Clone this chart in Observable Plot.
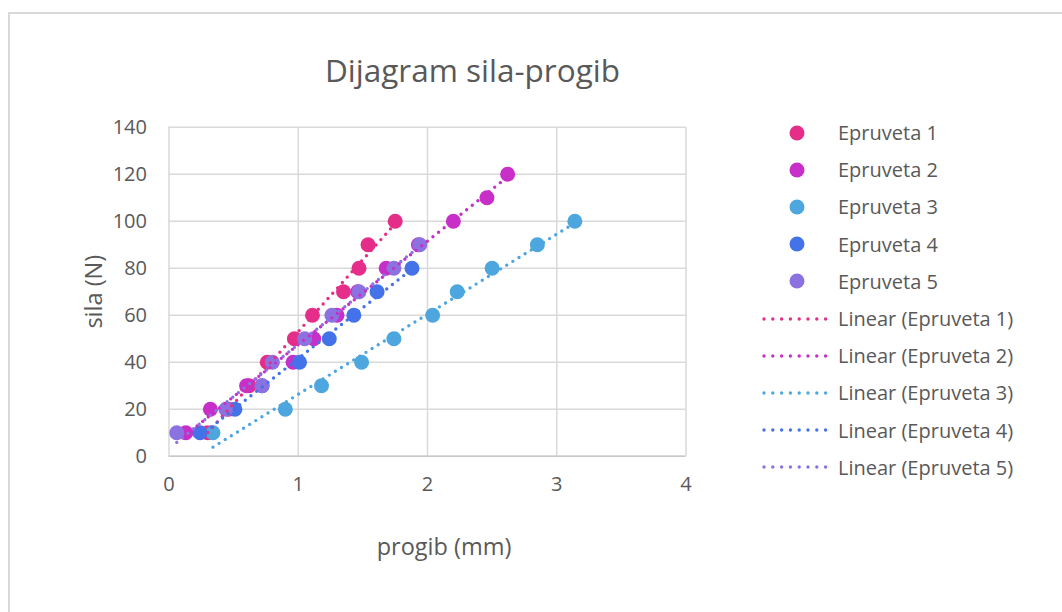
<!DOCTYPE html>
<html>
<head>
<meta charset="utf-8">
<script src="https://cdn.jsdelivr.net/npm/d3@7"></script>
<script src="https://cdn.jsdelivr.net/npm/@observablehq/plot@0.6"></script>
<style>
  html, body { margin: 0; padding: 0; background: #fff; overflow: hidden; }
  #wrap { position: relative; width: 1062px; height: 612px; overflow: hidden; font-family: "Open Sans", sans-serif; color: #595959; }
  #frame { position: absolute; left: 8px; top: 12px; width: 1200px; height: 800px; border: 2px solid #d9d9d9; box-sizing: border-box; }
  #chart { position: absolute; left: 0; top: 0; }
  #title { position: absolute; left: 0; width: 945px; top: 54px; text-align: center; font-size: 31.5px; line-height: 1; white-space: nowrap; }
  #xlabel { position: absolute; left: 0; width: 888px; top: 535px; text-align: center; font-size: 23.5px; line-height: 1; white-space: nowrap; }
  #legend { position: absolute; left: 760px; top: 114px; font-size: 20px; }
  .row { display: flex; align-items: center; height: 37.2px; }
  .row svg { width: 70px; height: 20px; margin-right: 8px; }
  .row span { white-space: nowrap; }
</style>
</head>
<body>
<div id="wrap">
  <div id="frame"></div>
  <div id="chart"></div>
  <div id="title"></div>
  <div id="xlabel"></div>
  <div id="legend"></div>
</div>
<script>
// ---- data ----
const seriesNames = ["Epruveta 1", "Epruveta 2", "Epruveta 3", "Epruveta 4", "Epruveta 5"];
const seriesColors = ["#E52E8A", "#C72FC8", "#4DA6DE", "#4472E8", "#8C72E0"];

const sila1   = [10, 20, 30, 40, 50, 60, 70, 80, 90, 100];
const progib1 = [0.30, 0.46, 0.62, 0.76, 0.97, 1.11, 1.35, 1.47, 1.54, 1.75];

const sila2   = [10, 20, 30, 40, 50, 60, 70, 80, 90, 100, 110, 120];
const progib2 = [0.13, 0.32, 0.60, 0.96, 1.12, 1.30, 1.46, 1.68, 1.93, 2.20, 2.46, 2.62];

const sila3   = [10, 20, 30, 40, 50, 60, 70, 80, 90, 100];
const progib3 = [0.34, 0.90, 1.18, 1.49, 1.74, 2.04, 2.23, 2.50, 2.85, 3.14];

const sila4   = [10, 20, 30, 40, 50, 60, 70, 80];
const progib4 = [0.24, 0.51, 0.72, 1.01, 1.24, 1.43, 1.61, 1.88];

const sila5   = [10, 20, 30, 40, 50, 60, 70, 80, 90];
const progib5 = [0.06, 0.44, 0.72, 0.80, 1.05, 1.26, 1.47, 1.74, 1.94];

const xTicks = [0, 1, 2, 3, 4];
const yTicks = [0, 20, 40, 60, 80, 100, 120, 140];

const xLabel = "progib (mm)";
const yLabel = "sila (N)";
const titleText = "Dijagram sila-progib";

// ---- build table ----
const sila = [sila1, sila2, sila3, sila4, sila5];
const progib = [progib1, progib2, progib3, progib4, progib5];
const data = [];
seriesNames.forEach((name, i) => {
  progib[i].forEach((x, j) => data.push({ s: name, x, y: sila[i][j] }));
});

const gridStyle = { stroke: "#d9d9d9", strokeOpacity: 1, strokeWidth: 1.5 };
const fmt = d => String(d);

const chart = Plot.plot({
  width: 1062,
  height: 612,
  marginLeft: 168.5,
  marginRight: 376.5,
  marginTop: 126.7,
  marginBottom: 156.3,
  style: { fontFamily: "'Open Sans', sans-serif", fontSize: "20px", color: "#595959", background: "transparent", overflow: "visible" },
  x: { domain: [0, 4] },
  y: { domain: [0, 140] },
  color: { domain: seriesNames, range: seriesColors },
  marks: [
    Plot.gridX(xTicks, gridStyle),
    Plot.gridY(yTicks, gridStyle),
    Plot.ruleY([0], { stroke: "#c8c8c8", strokeWidth: 1.5 }),
    Plot.axisX(xTicks, { tickSize: 0, tickPadding: 21, tickFormat: fmt, label: null, fill: "#595959" }),
    Plot.axisY(yTicks, { tickSize: 0, tickPadding: 22, tickFormat: fmt, label: null, fill: "#595959" }),
    Plot.axisY([], { tickSize: 0, label: yLabel, labelAnchor: "center", labelOffset: 84, labelArrow: "none", fontSize: 23.5, fill: "#595959" }),
    Plot.dot(data, { x: "x", y: "y", fill: "s", r: 7.5 }),
    Plot.linearRegressionY(data, { x: "x", y: "y", stroke: "s", ci: 0, strokeWidth: 3.4, strokeDasharray: "0,7.2", strokeLinecap: "round" })
  ]
});
document.getElementById("chart").appendChild(chart);
document.getElementById("title").textContent = titleText;
document.getElementById("xlabel").textContent = xLabel;

// ---- legend ----
const legend = document.getElementById("legend");
const rows = [];
seriesNames.forEach((n, i) => rows.push({ kind: "dot", label: n, color: seriesColors[i] }));
seriesNames.forEach((n, i) => rows.push({ kind: "line", label: "Linear (" + n + ")", color: seriesColors[i] }));
rows.forEach(r => {
  const row = document.createElement("div");
  row.className = "row";
  const svg = d3.create("svg").attr("viewBox", "0 0 70 20");
  if (r.kind === "dot") {
    svg.append("circle").attr("cx", 37).attr("cy", 10).attr("r", 7.5).attr("fill", r.color);
  } else {
    svg.append("line").attr("x1", 4).attr("x2", 66).attr("y1", 10).attr("y2", 10)
      .attr("stroke", r.color).attr("stroke-width", 3.4).attr("stroke-linecap", "round")
      .attr("stroke-dasharray", "0,8.8");
  }
  row.appendChild(svg.node());
  const span = document.createElement("span");
  span.textContent = r.label;
  row.appendChild(span);
  legend.appendChild(row);
});
</script>
</body>
</html>
